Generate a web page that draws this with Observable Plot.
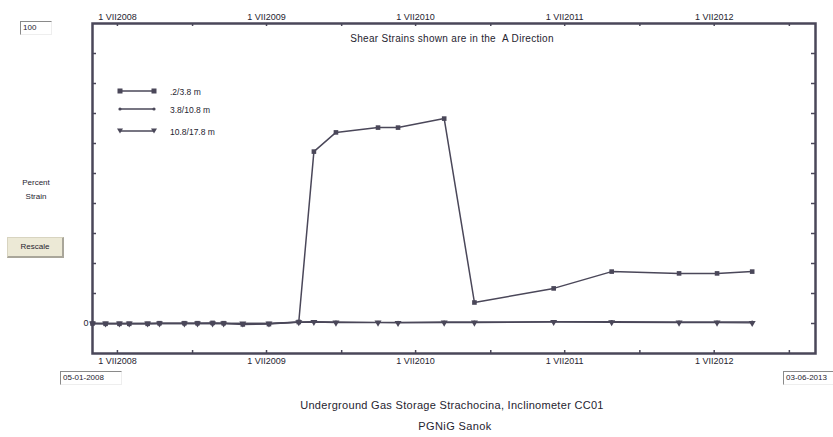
<!DOCTYPE html>
<html><head><meta charset="utf-8">
<script src="https://cdn.jsdelivr.net/npm/d3@7"></script>
<script src="https://cdn.jsdelivr.net/npm/@observablehq/plot@0.6"></script>
<style>
body{margin:0;background:#fff;font-family:"Liberation Sans",Arial,sans-serif;color:#262430}
#wrap{position:relative;width:833px;height:437px;overflow:hidden}
.abs{position:absolute;white-space:nowrap}
.field{border-left:1px solid #8a8a8a;border-top:1px solid #8a8a8a;border-right:1px solid #eee;border-bottom:1px solid #eee;font-size:8px;line-height:12px;padding:0 2px}
.btn{background:#ece9d6;border:1px solid #d8d4c0;border-right:2px solid #a9a69a;border-bottom:2px solid #a9a69a;font-size:8px;text-align:center;line-height:17px}
.cap{transform:translateX(-50%)}
.leg{font-size:8.5px}
</style></head>
<body><div id="wrap"></div>
<script>
const dates = ["2008-05-01","2008-06-02","2008-07-06","2008-07-30","2008-09-13","2008-10-12","2008-12-12","2009-01-13","2009-02-19","2009-03-18","2009-05-04","2009-07-07","2009-09-18","2009-10-25","2009-12-18","2010-03-31","2010-05-19","2010-09-09","2010-11-22","2011-06-04","2011-10-24","2012-04-06","2012-07-08","2012-10-02"];
const s1 = [0,-0.1,-0.1,-0.1,-0.1,0.1,0.1,0.1,0.2,0.1,-0.3,-0.2,0.5,57.3,63.7,65.3,65.3,68.3,7.0,11.7,17.3,16.7,16.7,17.3];
const s2 = [0,0,0,0,0,0,0,0,0,0,0,0,0.5,0.6,0.5,0.4,0.4,0.5,0.5,0.6,0.6,0.5,0.5,0.5];
const s3 = [0,0,0,0,0,0,0,0,0,0,0,0,0.4,0.5,0.3,0.3,0.2,0.3,0.3,0.5,0.4,0.3,0.3,0.2];
const seriesNames = [".2/3.8 m","3.8/10.8 m","10.8/17.8 m"];
const majorTicks = ["2008-07-01","2009-07-01","2010-07-01","2011-07-01","2012-07-01"];
const minorTicks = ["2009-01-01","2010-01-01","2011-01-01","2012-01-01","2013-01-01"];
const yTicks = [0,10,20,30,40,50,60,70,80,90];
const xStart = "2008-05-01", xEnd = "2013-03-06";

const ink = "#4a4759";
const parse = d => new Date(d + "T00:00:00Z");
const rows = (vals, name) => dates.map((d,i)=>({date: parse(d), value: vals[i], series: name}));
const d1 = rows(s1, seriesNames[0]), d2 = rows(s2, seriesNames[1]), d3 = rows(s3, seriesNames[2]);
const fmt = d => "1 VII" + d.getUTCFullYear();
const allT = [...majorTicks, ...minorTicks].map(parse);
const W = 833, H = 437, mL = 92, mR = 18, mT = 23, mB = 84;
const fw = W - mL - mR, fh = H - mT - mB;

const chart = Plot.plot({
  width: W, height: H, marginLeft: mL, marginRight: mR, marginTop: mT, marginBottom: mB,
  style: {fontFamily: "'Liberation Sans', Arial, sans-serif", fontSize: "9px", color: "#262430", background: "white"},
  x: {type: "utc", domain: [parse(xStart), parse(xEnd)], label: null},
  y: {domain: [-10, 100], label: null},
  marks: [
    Plot.axisX(majorTicks.map(parse), {anchor: "bottom", tickSize: 0, tickPadding: 4, tickFormat: fmt, label: null}),
    Plot.axisX(majorTicks.map(parse), {anchor: "top", tickSize: 0, tickPadding: 4, tickFormat: fmt, label: null}),
    Plot.axisY([0], {anchor: "left", tickSize: 0, tickPadding: 4, label: null}),
    Plot.tickX(allT, {x: d => d, insetTop: fh - 3, stroke: ink, strokeWidth: 1.5}),
    Plot.tickX(allT, {x: d => d, insetBottom: fh - 3, stroke: ink, strokeWidth: 1.5}),
    Plot.tickY(yTicks, {y: d => d, insetRight: fw - 4, stroke: ink, strokeWidth: 1.5}),
    Plot.tickY(yTicks, {y: d => d, insetLeft: fw - 4, stroke: ink, strokeWidth: 1.5}),
    Plot.line(d3, {x: "date", y: "value", stroke: ink, strokeWidth: 1.3}),
    Plot.line(d2, {x: "date", y: "value", stroke: ink, strokeWidth: 1.3}),
    Plot.line(d1, {x: "date", y: "value", stroke: ink, strokeWidth: 1.5}),
    Plot.dot(d3, {x: "date", y: "value", symbol: "triangle", rotate: 180, r: 2.6, fill: ink}),
    Plot.dot(d2, {x: "date", y: "value", r: 1.6, fill: ink}),
    Plot.dot(d1, {x: "date", y: "value", symbol: "square", r: 2.6, fill: ink}),
    Plot.frame({stroke: ink, strokeWidth: 2.5})
  ]
});
const wrap = document.getElementById("wrap");
wrap.appendChild(chart);

function add(html, css, cls){
  const e = document.createElement("div");
  e.className = "abs " + (cls||"");
  e.style.cssText = css;
  e.innerHTML = html;
  wrap.appendChild(e);
  return e;
}
add("100", "left:20px;top:21px;width:26px;", "field");
add("Percent<br>Strain", "left:18px;top:176px;width:36px;text-align:center;font-size:8px;line-height:14px");
add("Rescale", "left:7px;top:237px;width:54px;height:18px;", "btn");
add(xStart.slice(5,7)+"-"+xStart.slice(8,10)+"-"+xStart.slice(0,4), "left:60px;top:371px;width:56px;", "field");
add(xEnd.slice(5,7)+"-"+xEnd.slice(8,10)+"-"+xEnd.slice(0,4), "left:783px;top:371px;width:52px;", "field");
add("Shear Strains shown are in the&nbsp;&nbsp;A Direction", "left:452px;top:33px;font-size:10px;letter-spacing:0.3px", "cap");
add("Underground Gas Storage Strachocina, Inclinometer CC01", "left:452px;top:399px;font-size:11px;letter-spacing:0.3px", "cap");
add("PGNiG Sanok", "left:455px;top:420px;font-size:11px;letter-spacing:0.4px", "cap");

// legend
const legSym = [
  '<rect x="-2.5" y="-2.5" width="5" height="5" fill="'+ink+'"/>',
  '<circle r="1.6" fill="'+ink+'"/>',
  '<path d="M-3,-2.5L3,-2.5L0,2.5Z" fill="'+ink+'"/>'
];
const legY = [87, 105, 127];
seriesNames.forEach((n,i)=>{
  add('<svg width="44" height="10" style="vertical-align:middle"><line x1="4" x2="38" y1="5" y2="5" stroke="'+ink+'" stroke-width="1.4"/>'
    + '<g transform="translate(4,5)">'+legSym[i]+'</g><g transform="translate(38,5)">'+legSym[i]+'</g></svg>'
    + '<span class="leg" style="margin-left:10px">'+n+'</span>',
    "left:116px;top:"+(legY[i]-6)+"px;");
});
</script></body></html>
